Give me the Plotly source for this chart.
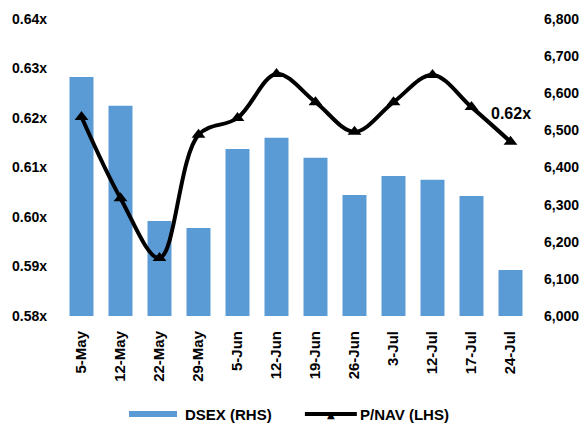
import plotly.graph_objects as go

dates = ["5-May", "12-May", "22-May", "29-May", "5-Jun", "12-Jun",
         "19-Jun", "26-Jun", "3-Jul", "12-Jul", "17-Jul", "24-Jul"]
dsex = [6644, 6566, 6256, 6237, 6450, 6480, 6426, 6326, 6377, 6367, 6323, 6124]
pnav = [0.6202, 0.6038, 0.5917, 0.6166, 0.6200, 0.6289,
        0.6232, 0.6172, 0.6232, 0.6287, 0.6222, 0.6152]

BLUE = "#5B9BD5"
FONT = "Liberation Sans"

fig = go.Figure()
fig.add_trace(go.Bar(x=dates, y=dsex, name="DSEX (RHS)", marker=dict(color=BLUE, line=dict(width=0)),
                     yaxis="y", showlegend=False))
fig.add_trace(go.Scatter(x=dates, y=pnav, name="P/NAV (LHS)", mode="lines+markers",
                         line=dict(color="black", width=4, shape="spline", smoothing=1.0),
                         marker=dict(symbol="triangle-up", size=12, color="black"),
                         yaxis="y2", showlegend=False))

tf = dict(family=FONT, size=14, color="black", weight="bold")
fig.update_layout(
    width=582, height=423,
    margin=dict(l=62, r=52, t=19, b=107, autoexpand=False),
    paper_bgcolor="white", plot_bgcolor="white",
    bargap=0.385,
    xaxis=dict(type="category", range=[-0.5, len(dates) - 0.5], tickangle=-90,
               tickfont=dict(family=FONT, size=15, color="black", weight="bold"),
               showline=False, showgrid=False, ticks="", ticklabelstandoff=11, automargin=False),
    yaxis=dict(side="right", range=[6000, 6800], dtick=100, tickformat=",d", tickfont=tf,
               showgrid=False, zeroline=False, showline=False, ticks="", ticklabelstandoff=13,
               automargin=False),
    yaxis2=dict(side="left", overlaying="y", range=[0.58, 0.64], dtick=0.01, tickformat=".2f",
                ticksuffix="x", tickfont=tf, showgrid=False, zeroline=False, showline=False,
                ticks="", ticklabelstandoff=14, automargin=False),
)

fig.add_annotation(x=dates[-1], y=0.6210, xref="x", yref="y2", text="0.62x", showarrow=False,
                   font=dict(family=FONT, size=16, color="black", weight="bold"))

# custom legend
fig.add_shape(type="rect", xref="paper", yref="paper", x0=0.1432, x1=0.2457, y0=-0.340, y1=-0.320,
              fillcolor=BLUE, line=dict(width=0))
fig.add_annotation(xref="paper", yref="paper", x=0.2585, y=-0.33, xanchor="left", yanchor="middle",
                   text="DSEX (RHS)", showarrow=False,
                   font=dict(family=FONT, size=15, color="black", weight="bold"))
fig.add_shape(type="line", xref="paper", yref="paper", x0=0.519, x1=0.630, y0=-0.33, y1=-0.33,
              line=dict(color="black", width=4))
fig.add_annotation(xref="paper", yref="paper", x=0.5748, y=-0.33, xanchor="center", yanchor="middle",
                   text="▲", showarrow=False, font=dict(family="DejaVu Sans", size=10, color="black"))
fig.add_annotation(xref="paper", yref="paper", x=0.632, y=-0.33, xanchor="left", yanchor="middle",
                   text="P/NAV (LHS)", showarrow=False,
                   font=dict(family=FONT, size=15, color="black", weight="bold"))

fig.write_html("out.html", config={"displayModeBar": False},
               post_script="document.body.style.margin='0';document.body.style.overflow='hidden';")
